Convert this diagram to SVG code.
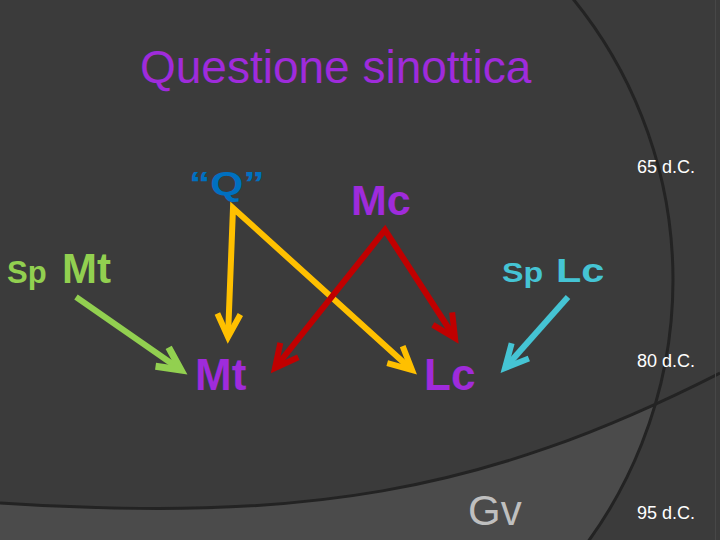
<svg xmlns="http://www.w3.org/2000/svg" width="720" height="540" viewBox="0 0 720 540">
<style>
text{font-family:"Liberation Sans",Arial,sans-serif}
.b{font-weight:bold}
.pur{fill:#9f2bdb}
.date{fill:#ffffff;font-size:18px}
.arr{fill:none;stroke-width:6;stroke-linejoin:miter;stroke-linecap:butt}
.bgline{fill:none;stroke:#232323;stroke-width:3}
</style>
<defs>
<clipPath id="circ"><circle cx="228" cy="280" r="445"/></clipPath>
<marker id="mY" markerUnits="userSpaceOnUse" viewBox="-30 -20 40 40" markerWidth="40" markerHeight="40" refX="0" refY="0" orient="auto-start-reverse"><path d="M-23,-11.5 L0,0 L-23,11.5" fill="none" stroke="#ffc000" stroke-width="6"/></marker>
<marker id="mR" markerUnits="userSpaceOnUse" viewBox="-30 -20 40 40" markerWidth="40" markerHeight="40" refX="0" refY="0" orient="auto-start-reverse"><path d="M-23,-11.5 L0,0 L-23,11.5" fill="none" stroke="#c00000" stroke-width="6"/></marker>
<marker id="mG" markerUnits="userSpaceOnUse" viewBox="-30 -20 40 40" markerWidth="40" markerHeight="40" refX="0" refY="0" orient="auto"><path d="M-23,-11.5 L0,0 L-23,11.5" fill="none" stroke="#92d050" stroke-width="7"/></marker>
<marker id="mC" markerUnits="userSpaceOnUse" viewBox="-30 -20 40 40" markerWidth="40" markerHeight="40" refX="0" refY="0" orient="auto"><path d="M-23,-11.5 L0,0 L-23,11.5" fill="none" stroke="#45c4d4" stroke-width="6"/></marker>
</defs>
<g id="background">
<rect x="0" y="0" width="720" height="540" fill="#3b3b3b"/>
<path d="M0,503 C300,522 480,495 720,373 L720,540 L0,540 Z" fill="#4b4b4b" clip-path="url(#circ)"/>
<path class="bgline" d="M0,503 C300,522 480,495 720,373"/>
<circle class="bgline" cx="228" cy="280" r="445"/>
<line x1="715.5" y1="0" x2="715.5" y2="540" stroke="#474747" stroke-width="1"/>
</g>
<g id="title"><text class="pur" x="140" y="83" font-size="46">Questione sinottica</text></g>
<g id="connectors">
<path class="arr" stroke="#ffc000" d="M228,337 L233,208 L412,370" marker-start="url(#mY)" marker-end="url(#mY)"/>
<path class="arr" stroke="#c00000" d="M275,368 L385,230 L455,338" marker-start="url(#mR)" marker-end="url(#mR)"/>
<path class="arr" stroke="#92d050" stroke-width="7" d="M76,297 L181,370" marker-end="url(#mG)"/>
<path class="arr" stroke="#45c4d4" d="M568,297 L505,368" marker-end="url(#mC)"/>
</g>
<g id="node-Q"><text class="b" transform="translate(189,195) scale(1.25,1)" x="0" y="0" font-size="34" fill="#0070c0">“Q”</text></g>
<g id="node-Mc"><text class="b pur" x="351" y="215" font-size="43">Mc</text></g>
<g id="node-SpMt"><text class="b" x="7" y="283" font-size="31" fill="#92d050">Sp</text><text class="b" x="62" y="283" font-size="42" fill="#92d050">Mt</text></g>
<g id="node-SpLc"><text class="b" transform="translate(502,282) scale(1.15,1)" x="0" y="0" font-size="28" fill="#45c4d4">Sp</text><text class="b" transform="translate(556,282) scale(1.22,1)" x="0" y="0" font-size="34" fill="#45c4d4">Lc</text></g>
<g id="node-Mt"><text class="b pur" x="195" y="390" font-size="44">Mt</text></g>
<g id="node-Lc"><text class="b pur" x="424" y="390" font-size="44">Lc</text></g>
<g id="node-Gv"><text x="468" y="525" font-size="42" fill="#bfbfbf">Gv</text></g>
<g id="dates">
<text class="date" x="637" y="173">65 d.C.</text>
<text class="date" x="637" y="367">80 d.C.</text>
<text class="date" x="637" y="519">95 d.C.</text>
</g>
</svg>
